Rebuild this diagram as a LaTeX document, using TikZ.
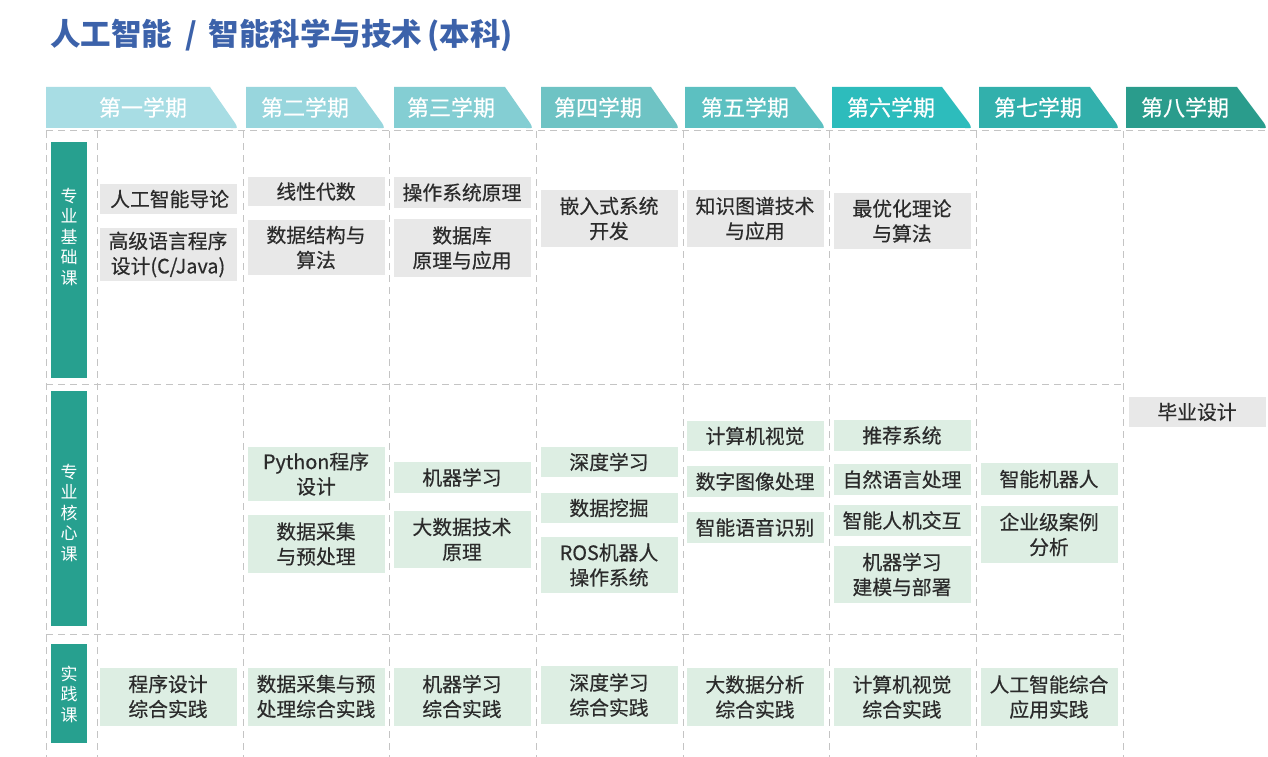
\documentclass[tikz,border=0pt]{standalone}
\usepackage{fontspec}
\setmainfont{Noto Sans CJK SC}
\newfontfamily\medfont[FakeBold=0.5]{Noto Sans CJK SC}
\definecolor{titleblue}{HTML}{3C62AA}
\definecolor{bA}{HTML}{A8DDE4}
\definecolor{bB}{HTML}{98D6DD}
\definecolor{bC}{HTML}{84CED3}
\definecolor{bD}{HTML}{6EC3C4}
\definecolor{bE}{HTML}{5CC0C1}
\definecolor{bF}{HTML}{2DBCBC}
\definecolor{bG}{HTML}{32B0AC}
\definecolor{bH}{HTML}{2A9C8C}
\definecolor{teal}{HTML}{27A08F}
\definecolor{boxgray}{HTML}{E8E8E8}
\definecolor{boxgreen}{HTML}{DDEEE3}
\definecolor{gridgray}{HTML}{C4C4C4}
\definecolor{txt}{HTML}{2B2B2B}
\begin{document}
\begin{tikzpicture}[x=1pt,y=-1pt,
  grid/.style={draw=gridgray,line width=1pt,dash pattern=on 7pt off 5pt},
  crs/.style={inner sep=0pt,minimum width=137pt,align=center,text=txt,
    font={\medfont\fontsize{19.8}{25}\selectfont}},
  cg/.style={crs,fill=boxgray},
  cn/.style={crs,fill=boxgreen},
  bartxt/.style={text=white,align=center,inner sep=0pt,font={\fontsize{17}{20.5}\selectfont}},
  bar/.style={fill=teal,inner sep=0pt,minimum width=36pt},
  semtxt/.style={text=white,inner sep=0pt,font={\medfont\fontsize{22}{24}\selectfont}}
]
\useasboundingbox[fill=white] (0,0) rectangle (1268,757);

% title
\node[anchor=west,inner sep=0pt,text=titleblue,font={\fontsize{30.5}{32}\selectfont\bfseries}] (title) at (50,35) {人工智能\hspace{13pt}/\hspace{12pt}智能科学与技术\hspace{5pt}(本科)};

% banners
\foreach \L/\S/\R/\c in {46/210/238/bA,246/356/385/bB,394/505/533/bC,541/651/679/bD,685/795/825/bE,832/942/972/bF,979/1090/1119/bG,1126/1237/1267/bH}{
  \fill[\c] (\L,87) -- (\S,87) -- (\R-3,123) .. controls (\R,128.5) .. (\R-7,128) -- (\L,128) -- cycle;
}
\node[semtxt] (s1) at (143,107.5) {第一学期};
\node[semtxt] (s2) at (305,107.5) {第二学期};
\node[semtxt] (s3) at (451,107.5) {第三学期};
\node[semtxt] (s4) at (598,107.5) {第四学期};
\node[semtxt] (s5) at (745,107.5) {第五学期};
\node[semtxt] (s6) at (891,107.5) {第六学期};
\node[semtxt] (s7) at (1038,107.5) {第七学期};
\node[semtxt] (s8) at (1185,107.5) {第八学期};

% grid
\draw[grid] (46,131) -- (1268,131);
\draw[grid] (46,384) -- (1123,384);
\draw[grid] (46,634) -- (1123,634);
\foreach \x in {46,97,243,389,536,683,829,976,1123}{
  \draw[grid] (\x,131) -- (\x,757);
}

% row labels
\node[bar,minimum height=236pt] (r1) at (69,260) {};
\node[bartxt] (r1t) at (69,237) {专\\业\\基\\础\\课};
\node[bar,minimum height=235pt] (r2) at (69,508.5) {};
\node[bartxt] (r2t) at (69,513) {专\\业\\核\\心\\课};
\node[bar,minimum height=99pt] (r3) at (69,693.5) {};
\node[bartxt] (r3t) at (69,694) {实\\践\\课};

% row 1
\node[cg,minimum height=30pt] (a1) at (168,199) {\,人工智能导论};
\node[cg,minimum height=53pt] (a2) at (168,254.5) {高级语言程序\\设计(C/Java)};
\node[cg,minimum height=29pt] (b1) at (316,191.5) {线性代数};
\node[cg,minimum height=55pt] (b2) at (316,247.5) {数据结构与\\算法};
\node[cg,minimum height=31pt] (c1) at (462,192.5) {操作系统原理};
\node[cg,minimum height=58pt] (c2) at (462,248) {数据库\\原理与应用};
\node[cg,minimum height=57pt] (d1) at (609,218.5) {嵌入式系统\\开发};
\node[cg,minimum height=57pt] (e1) at (755,218.5) {知识图谱技术\\与应用};
\node[cg,minimum height=56pt] (f1) at (902,221) {最优化理论\\与算法};

% row 2
\node[cn,minimum height=54pt] (b3) at (316,474) {Python程序\\设计};
\node[cn,minimum height=58pt] (b4) at (316,544) {数据采集\\与预处理};
\node[cn,minimum height=31pt] (c3) at (462,477.5) {机器学习};
\node[cn,minimum height=57pt] (c4) at (462,539.5) {大数据技术\\原理};
\node[cn,minimum height=30pt] (d3) at (609,462) {深度学习};
\node[cn,minimum height=30pt] (d4) at (609,508) {数据挖掘};
\node[cn,minimum height=56pt] (d5) at (609,565) {ROS机器人\\操作系统};
\node[cn,minimum height=30pt] (e3) at (755,436) {计算机视觉};
\node[cn,minimum height=31pt] (e4) at (755,481.5) {数字图像处理};
\node[cn,minimum height=31pt] (e5) at (755,527.5) {智能语音识别};
\node[cn,minimum height=31pt] (f3) at (902,435.5) {推荐系统};
\node[cn,minimum height=31pt] (f4) at (902,479.5) {自然语言处理};
\node[cn,minimum height=31pt] (f5) at (902,520.5) {智能人机交互};
\node[cn,minimum height=57pt] (f6) at (902,574.5) {机器学习\\建模与部署};
\node[cn,minimum height=32pt] (g3) at (1049,479) {智能机器人};
\node[cn,minimum height=57pt] (g4) at (1049,534.5) {企业级案例\\分析};
\node[cg,minimum height=30pt] (h3) at (1197,412) {毕业设计};

% row 3
\node[cn,minimum height=58pt] (a6) at (168,696.5) {程序设计\\综合实践};
\node[cn,minimum height=58pt] (b6) at (316,696.5) {数据采集与预\\处理综合实践};
\node[cn,minimum height=58pt] (c6) at (462,696.5) {机器学习\\综合实践};
\node[cn,minimum height=58pt] (d6) at (609,695) {深度学习\\综合实践};
\node[cn,minimum height=58pt] (e6) at (755,697) {大数据分析\\综合实践};
\node[cn,minimum height=58pt] (f6b) at (902,697) {计算机视觉\\综合实践};
\node[cn,minimum height=58pt] (g6) at (1049,697) {人工智能综合\\应用实践};
\end{tikzpicture}
\end{document}
